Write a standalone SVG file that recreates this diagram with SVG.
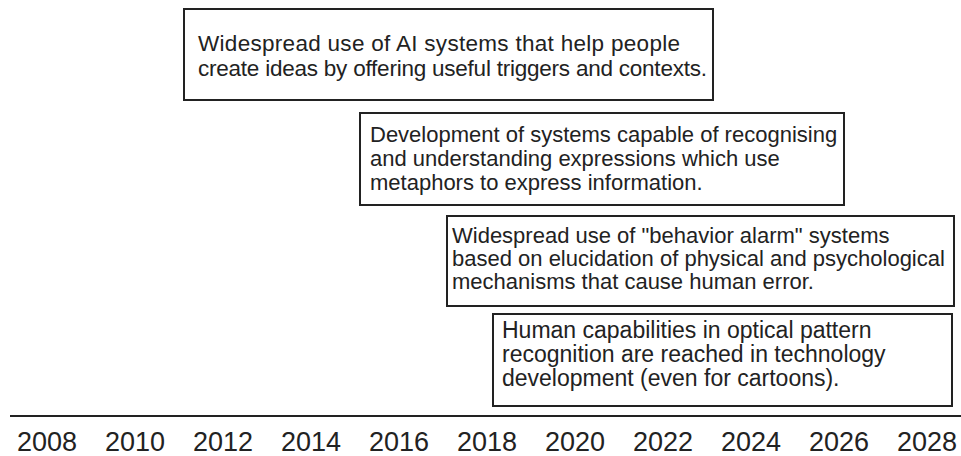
<svg xmlns="http://www.w3.org/2000/svg" width="961" height="456" viewBox="0 0 961 456">
<style>
.box{fill:#fff;stroke:#222;stroke-width:2}
.t{font-family:"Liberation Sans",Arial,sans-serif;font-size:22px;fill:#222}
.y{font-family:"Liberation Sans",Arial,sans-serif;font-size:27px;fill:#222;text-anchor:middle}
.axis{stroke:#222;stroke-width:2}
</style>
<rect width="961" height="456" fill="#fff"/>
<g id="node1">
<rect class="box" x="184" y="9" width="529" height="91"/>
<text class="t" x="198" y="51" style="font-size:22.5px" textLength="482">Widespread use of AI systems that help people</text>
<text class="t" x="198" y="76" style="font-size:22.5px" textLength="509">create ideas by offering useful triggers and contexts.</text>
</g>
<g id="node2">
<rect class="box" x="360" y="113" width="484" height="92"/>
<text class="t" x="370" y="142">Development of systems capable of recognising</text>
<text class="t" x="370" y="166">and understanding expressions which use</text>
<text class="t" x="370" y="190">metaphors to express information.</text>
</g>
<g id="node3">
<rect class="box" x="447" y="216" width="507" height="90"/>
<text class="t" x="452" y="243">Widespread use of "behavior alarm" systems</text>
<text class="t" x="452" y="266">based on elucidation of physical and psychological</text>
<text class="t" x="452" y="289">mechanisms that cause human error.</text>
</g>
<g id="node4">
<rect class="box" x="493" y="314" width="459" height="92"/>
<text class="t" x="502" y="338" style="font-size:23px">Human capabilities in optical pattern</text>
<text class="t" x="502" y="362" style="font-size:23px">recognition are reached in technology</text>
<text class="t" x="502" y="386" style="font-size:23px">development (even for cartoons).</text>
</g>
<g id="connectors">
<line class="axis" x1="10" y1="416" x2="961" y2="416"/>
</g>
<g id="axis-labels">
<text class="y" x="47" y="451">2008</text>
<text class="y" x="135" y="451">2010</text>
<text class="y" x="223" y="451">2012</text>
<text class="y" x="311" y="451">2014</text>
<text class="y" x="399" y="451">2016</text>
<text class="y" x="487" y="451">2018</text>
<text class="y" x="575" y="451">2020</text>
<text class="y" x="663" y="451">2022</text>
<text class="y" x="751" y="451">2024</text>
<text class="y" x="839" y="451">2026</text>
<text class="y" x="927" y="451">2028</text>
</g>
</svg>
